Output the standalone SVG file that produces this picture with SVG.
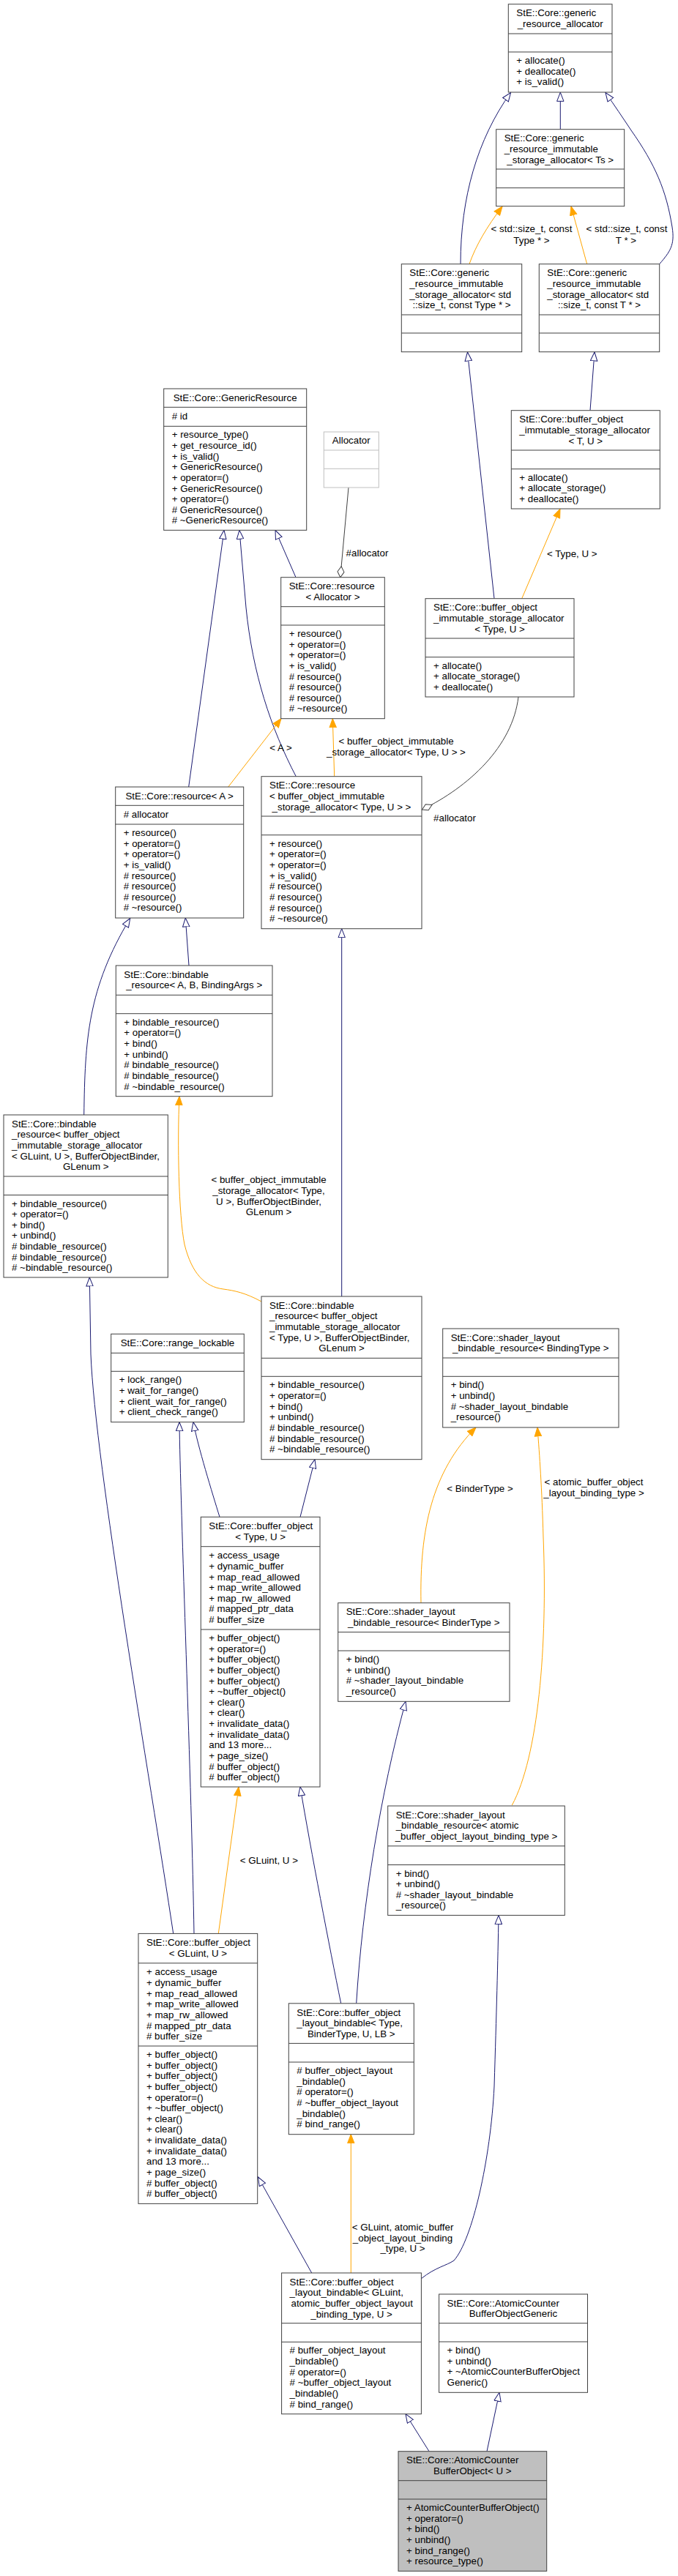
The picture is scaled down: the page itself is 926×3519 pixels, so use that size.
<svg xmlns="http://www.w3.org/2000/svg" width="926" height="3519" viewBox="0 0 926 3519">
<style>
text{font-family:"Liberation Sans",Arial,sans-serif;font-size:13.33px;fill:#000}
.c{text-anchor:middle}
.bx{fill:#fff;stroke:#404040;stroke-width:1}
.gy{fill:#fff;stroke:#bfbfbf;stroke-width:1}
.mn{fill:#bfbfbf;stroke:#404040;stroke-width:1}
.sp{stroke:#404040;stroke-width:1}
.spg{stroke:#bfbfbf;stroke-width:1}
.eb{fill:none;stroke:#191970;stroke-width:1;marker-end:url(#ib)}
.eo{fill:none;stroke:#ffa500;stroke-width:1;marker-end:url(#io)}
.eg{fill:none;stroke:#404040;stroke-width:1;marker-end:url(#dg)}
</style>
<defs>
<marker id="ib" markerUnits="userSpaceOnUse" viewBox="0 0 13 11" refX="12.5" refY="5.5" markerWidth="13" markerHeight="11" orient="auto"><path d="M0.5,0.8 L12.5,5.5 L0.5,10.2 z" fill="#fff" stroke="#191970"/></marker>
<marker id="io" markerUnits="userSpaceOnUse" viewBox="0 0 13 11" refX="12.5" refY="5.5" markerWidth="13" markerHeight="11" orient="auto"><path d="M0.5,0.8 L12.5,5.5 L0.5,10.2 z" fill="#ffa500" stroke="#ffa500"/></marker>
<marker id="dg" markerUnits="userSpaceOnUse" viewBox="0 0 16 11" refX="15.5" refY="5.5" markerWidth="16" markerHeight="11" orient="auto"><path d="M0.5,5.5 L8,1 L15.5,5.5 L8,10 z" fill="#fff" stroke="#404040"/></marker>
</defs>
<rect width="926" height="3519" fill="#fff"/>

<g id="edges">
<path class="eb" d="M629,360.7 C629,270 652,190 697.5,126.5"/>
<path class="eb" d="M765.3,176.7 L765.3,126.3"/>
<path class="eb" d="M900.7,360.7 C915,344 922,335 918,310 C910,260 895,225 862,178 C850,160 840,145 827,126.5"/>
<path class="eo" d="M641,360.7 C650,335 665,310 686,282"/>
<path class="eo" d="M801.7,360.7 L780,282"/>
<path class="eb" d="M675,817.7 L638.5,481"/>
<path class="eb" d="M806,560.7 L812,481"/>
<path class="eo" d="M712.7,817.7 L765,695.3"/>
<path class="eb" d="M257.7,1075 L306,724.3"/>
<path class="eb" d="M404.3,1060.7 C370,995 345,920 336,830 L327,724.3"/>
<path class="eb" d="M404,788.7 L376,724.3"/>
<path class="eg" d="M476,666 L464.8,788.7"/>
<path class="eo" d="M311.7,1075 L384,981.7"/>
<path class="eo" d="M456.7,1060.7 L454.3,981.7"/>
<path class="eg" d="M708,952 C700,1020 640,1075 576.5,1106"/>
<path class="eb" d="M258,1319 L253.3,1254"/>
<path class="eb" d="M114.7,1523 C116,1420 120,1350 177.7,1254.5"/>
<path class="eo" d="M357,1778 C335,1766 320,1763 305,1761 C280,1758 262,1740 252,1700 C244,1660 242,1560 245,1497.7"/>
<path class="eb" d="M466.7,1771 L466.7,1268.7"/>
<path class="eb" d="M410,2072.3 L430,1993.7"/>
<path class="eb" d="M300,2072.3 C290,2040 270,1975 264,1942.7"/>
<path class="eb" d="M265,2641.4 C262,2450 246,2050 245,1942.7"/>
<path class="eb" d="M236.7,2641.4 C205,2430 130,2000 124,1850 L122.3,1745"/>
<path class="eo" d="M298.3,2641.4 L326,2441"/>
<path class="eb" d="M465.7,2736.8 C450,2660 425,2530 410,2441"/>
<path class="eb" d="M486.7,2736.8 C495,2600 520,2450 554,2324.3"/>
<path class="eo" d="M575,2189.7 C573,2090 590,2010 650,1950"/>
<path class="eo" d="M699.3,2466 C735,2400 748,2250 742,2100 C740,2030 737,1990 734,1950"/>
<path class="eb" d="M425.7,3105 L352.5,2974"/>
<path class="eo" d="M479.3,3105 L479.3,2915.7"/>
<path class="eb" d="M575.4,3112.7 C595,3097 610,3095 620,3088 C645,3060 670,2950 675,2850 C678,2750 680,2680 681,2616.4"/>
<path class="eb" d="M586,3348.7 L554,3297.7"/>
<path class="eb" d="M665,3348.7 L682,3268.3"/>
<text class="c" x="726" y="317">&lt; std::size_t, const</text>
<text class="c" x="726" y="332.5">Type * &gt;</text>
<text class="c" x="856" y="317">&lt; std::size_t, const</text>
<text class="c" x="855" y="332.5">T * &gt;</text>
<text class="c" x="781.3" y="760.5">&lt; Type, U &gt;</text>
<text class="c" x="501.5" y="760">#allocator</text>
<text class="c" x="383.5" y="1025.5">&lt; A &gt;</text>
<text class="c" x="541" y="1017">&lt; buffer_object_immutable</text>
<text class="c" x="541" y="1032">_storage_allocator&lt; Type, U &gt; &gt;</text>
<text class="c" x="621" y="1122">#allocator</text>
<text class="c" x="367" y="1616">&lt; buffer_object_immutable</text>
<text class="c" x="367" y="1631">_storage_allocator&lt; Type,</text>
<text class="c" x="367" y="1645.5">U &gt;, BufferObjectBinder,</text>
<text class="c" x="367" y="1660">GLenum &gt;</text>
<text class="c" x="655.5" y="2037.5">&lt; BinderType &gt;</text>
<text class="c" x="811" y="2029.4">&lt; atomic_buffer_object</text>
<text class="c" x="811" y="2044.3">_layout_binding_type &gt;</text>
<text class="c" x="367.3" y="2546">&lt; GLuint, U &gt;</text>
<text class="c" x="550" y="3047.4">&lt; GLuint, atomic_buffer</text>
<text class="c" x="550" y="3061.7">_object_layout_binding</text>
<text class="c" x="550" y="3076.4">_type, U &gt;</text>
</g>

<g id="n1">
<rect class="bx" x="694.3" y="5.7" width="141.7" height="120.3"/>
<line class="sp" x1="694.3" y1="46" x2="836" y2="46"/><line class="sp" x1="694.3" y1="71" x2="836" y2="71"/>
<text x="705.3" y="22.4">StE::Core::generic</text>
<text class="c" x="765.2" y="37">_resource_allocator</text>
<text x="705.3" y="87">+ allocate()</text>
<text x="705.3" y="101.7">+ deallocate()</text>
<text x="705.3" y="116.3">+ is_valid()</text>
</g>

<g id="n2">
<rect class="bx" x="677.7" y="176.7" width="175" height="105"/>
<line class="sp" x1="677.7" y1="231" x2="852.7" y2="231"/><line class="sp" x1="677.7" y1="256.7" x2="852.7" y2="256.7"/>
<text x="688.7" y="193.4">StE::Core::generic</text>
<text x="688.7" y="208">_resource_immutable</text>
<text class="c" x="765.2" y="222.7">_storage_allocator&lt; Ts &gt;</text>
</g>

<g id="n3">
<rect class="bx" x="548.3" y="360.7" width="164.4" height="120"/>
<line class="sp" x1="548.3" y1="430" x2="712.7" y2="430"/><line class="sp" x1="548.3" y1="455" x2="712.7" y2="455"/>
<text x="559.3" y="377.4">StE::Core::generic</text>
<text x="559.3" y="392">_resource_immutable</text>
<text x="559.3" y="406.7">_storage_allocator&lt; std</text>
<text class="c" x="630.5" y="421.3">::size_t, const Type * &gt;</text>
</g>

<g id="n4">
<rect class="bx" x="736.3" y="360.7" width="164.4" height="120"/>
<line class="sp" x1="736.3" y1="430" x2="900.7" y2="430"/><line class="sp" x1="736.3" y1="455" x2="900.7" y2="455"/>
<text x="747.3" y="377.4">StE::Core::generic</text>
<text x="747.3" y="392">_resource_immutable</text>
<text x="747.3" y="406.7">_storage_allocator&lt; std</text>
<text class="c" x="818.5" y="421.3">::size_t, const T * &gt;</text>
</g>

<g id="n5">
<rect class="bx" x="698.3" y="560.7" width="203" height="134.3"/>
<line class="sp" x1="698.3" y1="615" x2="901.3" y2="615"/><line class="sp" x1="698.3" y1="640.7" x2="901.3" y2="640.7"/>
<text x="709.3" y="577.4">StE::Core::buffer_object</text>
<text x="709.3" y="592">_immutable_storage_allocator</text>
<text class="c" x="799.8" y="606.7">&lt; T, U &gt;</text>
<text x="709.3" y="656.7">+ allocate()</text>
<text x="709.3" y="671.3">+ allocate_storage()</text>
<text x="709.3" y="686">+ deallocate()</text>
</g>

<g id="n6">
<rect class="bx" x="581" y="817.7" width="203" height="134.3"/>
<line class="sp" x1="581" y1="872" x2="784" y2="872"/><line class="sp" x1="581" y1="897.7" x2="784" y2="897.7"/>
<text x="592" y="834.4">StE::Core::buffer_object</text>
<text x="592" y="849">_immutable_storage_allocator</text>
<text class="c" x="682.5" y="863.7">&lt; Type, U &gt;</text>
<text x="592" y="913.7">+ allocate()</text>
<text x="592" y="928.3">+ allocate_storage()</text>
<text x="592" y="943">+ deallocate()</text>
</g>

<g id="n7">
<rect class="bx" x="223.7" y="531" width="195" height="193.3"/>
<line class="sp" x1="223.7" y1="556.3" x2="418.7" y2="556.3"/><line class="sp" x1="223.7" y1="582.3" x2="418.7" y2="582.3"/>
<text class="c" x="321.2" y="547.7">StE::Core::GenericResource</text>
<text x="234.7" y="573">#  id</text>
<text x="234.7" y="598.3">+ resource_type()</text>
<text x="234.7" y="612.9">+ get_resource_id()</text>
<text x="234.7" y="627.6">+ is_valid()</text>
<text x="234.7" y="642.2">+ GenericResource()</text>
<text x="234.7" y="656.8">+ operator=()</text>
<text x="234.7" y="671.5">+ GenericResource()</text>
<text x="234.7" y="686.1">+ operator=()</text>
<text x="234.7" y="700.7"># GenericResource()</text>
<text x="234.7" y="715.3"># ~GenericResource()</text>
</g>

<g id="n8">
<rect class="gy" x="442.3" y="590" width="75" height="76"/>
<line class="spg" x1="442.3" y1="615" x2="517.3" y2="615"/><line class="spg" x1="442.3" y1="640.3" x2="517.3" y2="640.3"/>
<text class="c" x="479.8" y="606.4">Allocator</text>
</g>

<g id="n9">
<rect class="bx" x="383.7" y="788.7" width="141.6" height="193"/>
<line class="sp" x1="383.7" y1="828.7" x2="525.3" y2="828.7"/><line class="sp" x1="383.7" y1="854" x2="525.3" y2="854"/>
<text x="394.7" y="805.4">StE::Core::resource</text>
<text class="c" x="454.5" y="820">&lt; Allocator &gt;</text>
<text x="394.7" y="870">+ resource()</text>
<text x="394.7" y="884.6">+ operator=()</text>
<text x="394.7" y="899.3">+ operator=()</text>
<text x="394.7" y="913.9">+ is_valid()</text>
<text x="394.7" y="928.5"># resource()</text>
<text x="394.7" y="943.2"># resource()</text>
<text x="394.7" y="957.8"># resource()</text>
<text x="394.7" y="972.4"># ~resource()</text>
</g>

<g id="n10">
<rect class="bx" x="157.7" y="1075" width="175" height="179"/>
<line class="sp" x1="157.7" y1="1100.3" x2="332.7" y2="1100.3"/><line class="sp" x1="157.7" y1="1126" x2="332.7" y2="1126"/>
<text class="c" x="245.2" y="1091.7">StE::Core::resource&lt; A &gt;</text>
<text x="168.7" y="1117"># allocator</text>
<text x="168.7" y="1142">+ resource()</text>
<text x="168.7" y="1156.6">+ operator=()</text>
<text x="168.7" y="1171.3">+ operator=()</text>
<text x="168.7" y="1185.9">+ is_valid()</text>
<text x="168.7" y="1200.5"># resource()</text>
<text x="168.7" y="1215.2"># resource()</text>
<text x="168.7" y="1229.8"># resource()</text>
<text x="168.7" y="1244.4"># ~resource()</text>
</g>

<g id="n11">
<rect class="bx" x="357" y="1060.7" width="219" height="208"/>
<line class="sp" x1="357" y1="1115" x2="576" y2="1115"/><line class="sp" x1="357" y1="1140.7" x2="576" y2="1140.7"/>
<text x="368" y="1077.4">StE::Core::resource</text>
<text x="368" y="1092">&lt; buffer_object_immutable</text>
<text class="c" x="466.5" y="1106.7">_storage_allocator&lt; Type, U &gt; &gt;</text>
<text x="368" y="1156.7">+ resource()</text>
<text x="368" y="1171.3">+ operator=()</text>
<text x="368" y="1186">+ operator=()</text>
<text x="368" y="1200.6">+ is_valid()</text>
<text x="368" y="1215.2"># resource()</text>
<text x="368" y="1229.9"># resource()</text>
<text x="368" y="1244.5"># resource()</text>
<text x="368" y="1259.1"># ~resource()</text>
</g>

<g id="n12">
<rect class="bx" x="158.3" y="1319" width="213.7" height="178.7"/>
<line class="sp" x1="158.3" y1="1359.3" x2="372" y2="1359.3"/><line class="sp" x1="158.3" y1="1384.7" x2="372" y2="1384.7"/>
<text x="169.3" y="1335.7">StE::Core::bindable</text>
<text class="c" x="265.2" y="1350.3">_resource&lt; A, B, BindingArgs &gt;</text>
<text x="169.3" y="1400.7">+ bindable_resource()</text>
<text x="169.3" y="1415.3">+ operator=()</text>
<text x="169.3" y="1430">+ bind()</text>
<text x="169.3" y="1444.6">+ unbind()</text>
<text x="169.3" y="1459.2"># bindable_resource()</text>
<text x="169.3" y="1473.9"># bindable_resource()</text>
<text x="169.3" y="1488.5"># ~bindable_resource()</text>
</g>

<g id="n13">
<rect class="bx" x="5" y="1523" width="224.3" height="222"/>
<line class="sp" x1="5" y1="1607" x2="229.3" y2="1607"/><line class="sp" x1="5" y1="1632.5" x2="229.3" y2="1632.5"/>
<text x="16" y="1539.7">StE::Core::bindable</text>
<text x="16" y="1554.3">_resource&lt; buffer_object</text>
<text x="16" y="1569">_immutable_storage_allocator</text>
<text x="16" y="1583.6">&lt; GLuint, U &gt;, BufferObjectBinder,</text>
<text class="c" x="117.2" y="1598.3">GLenum &gt;</text>
<text x="16" y="1648.5">+ bindable_resource()</text>
<text x="16" y="1663.1">+ operator=()</text>
<text x="16" y="1677.8">+ bind()</text>
<text x="16" y="1692.4">+ unbind()</text>
<text x="16" y="1707"># bindable_resource()</text>
<text x="16" y="1721.7"># bindable_resource()</text>
<text x="16" y="1736.3"># ~bindable_resource()</text>
</g>

<g id="n14">
<rect class="bx" x="151.7" y="1822.3" width="181.6" height="120.4"/>
<line class="sp" x1="151.7" y1="1848.3" x2="333.3" y2="1848.3"/><line class="sp" x1="151.7" y1="1873.3" x2="333.3" y2="1873.3"/>
<text class="c" x="242.5" y="1839">StE::Core::range_lockable</text>
<text x="162.7" y="1889.3">+ lock_range()</text>
<text x="162.7" y="1903.9">+ wait_for_range()</text>
<text x="162.7" y="1918.6">+ client_wait_for_range()</text>
<text x="162.7" y="1933.2">+ client_check_range()</text>
</g>

<g id="n15">
<rect class="bx" x="357" y="1771" width="219" height="222.7"/>
<line class="sp" x1="357" y1="1855.3" x2="576" y2="1855.3"/><line class="sp" x1="357" y1="1880.3" x2="576" y2="1880.3"/>
<text x="368" y="1787.7">StE::Core::bindable</text>
<text x="368" y="1802.3">_resource&lt; buffer_object</text>
<text x="368" y="1817">_immutable_storage_allocator</text>
<text x="368" y="1831.6">&lt; Type, U &gt;, BufferObjectBinder,</text>
<text class="c" x="466.5" y="1846.3">GLenum &gt;</text>
<text x="368" y="1896.3">+ bindable_resource()</text>
<text x="368" y="1910.9">+ operator=()</text>
<text x="368" y="1925.6">+ bind()</text>
<text x="368" y="1940.2">+ unbind()</text>
<text x="368" y="1954.8"># bindable_resource()</text>
<text x="368" y="1969.5"># bindable_resource()</text>
<text x="368" y="1984.1"># ~bindable_resource()</text>
</g>

<g id="n16">
<rect class="bx" x="604.7" y="1815" width="240.3" height="135"/>
<line class="sp" x1="604.7" y1="1855" x2="845" y2="1855"/><line class="sp" x1="604.7" y1="1880.3" x2="845" y2="1880.3"/>
<text x="615.7" y="1831.7">StE::Core::shader_layout</text>
<text class="c" x="724.8" y="1846.3">_bindable_resource&lt; BindingType &gt;</text>
<text x="615.7" y="1896.3">+ bind()</text>
<text x="615.7" y="1910.9">+ unbind()</text>
<text x="615.7" y="1925.6"># ~shader_layout_bindable</text>
<text x="615.7" y="1940.2">_resource()</text>
</g>

<g id="n17">
<rect class="bx" x="274.3" y="2072.3" width="162.7" height="368.7"/>
<line class="sp" x1="274.3" y1="2112.7" x2="437" y2="2112.7"/><line class="sp" x1="274.3" y1="2226" x2="437" y2="2226"/>
<text x="285.3" y="2089">StE::Core::buffer_object</text>
<text class="c" x="355.7" y="2103.6">&lt; Type, U &gt;</text>
<text x="285.3" y="2129.2">+ access_usage</text>
<text x="285.3" y="2143.8">+ dynamic_buffer</text>
<text x="285.3" y="2158.5">+ map_read_allowed</text>
<text x="285.3" y="2173.1">+ map_write_allowed</text>
<text x="285.3" y="2187.7">+ map_rw_allowed</text>
<text x="285.3" y="2202.4"># mapped_ptr_data</text>
<text x="285.3" y="2217"># buffer_size</text>
<text x="285.3" y="2242">+ buffer_object()</text>
<text x="285.3" y="2256.6">+ operator=()</text>
<text x="285.3" y="2271.3">+ buffer_object()</text>
<text x="285.3" y="2285.9">+ buffer_object()</text>
<text x="285.3" y="2300.5">+ buffer_object()</text>
<text x="285.3" y="2315.2">+ ~buffer_object()</text>
<text x="285.3" y="2329.8">+ clear()</text>
<text x="285.3" y="2344.4">+ clear()</text>
<text x="285.3" y="2359">+ invalidate_data()</text>
<text x="285.3" y="2373.7">+ invalidate_data()</text>
<text x="285.3" y="2388.3">and 13 more...</text>
<text x="285.3" y="2402.9">+ page_size()</text>
<text x="285.3" y="2417.6"># buffer_object()</text>
<text x="285.3" y="2432.2"># buffer_object()</text>
</g>

<g id="n18">
<rect class="bx" x="461.7" y="2189.7" width="234.3" height="134.6"/>
<line class="sp" x1="461.7" y1="2229.6" x2="696" y2="2229.6"/><line class="sp" x1="461.7" y1="2255" x2="696" y2="2255"/>
<text x="472.7" y="2206.4">StE::Core::shader_layout</text>
<text class="c" x="578.8" y="2221">_bindable_resource&lt; BinderType &gt;</text>
<text x="472.7" y="2271">+ bind()</text>
<text x="472.7" y="2285.6">+ unbind()</text>
<text x="472.7" y="2300.3"># ~shader_layout_bindable</text>
<text x="472.7" y="2314.9">_resource()</text>
</g>

<g id="n19">
<rect class="bx" x="529.7" y="2467" width="241.6" height="149.4"/>
<line class="sp" x1="529.7" y1="2521.8" x2="771.3" y2="2521.8"/><line class="sp" x1="529.7" y1="2547.5" x2="771.3" y2="2547.5"/>
<text x="540.7" y="2483.7">StE::Core::shader_layout</text>
<text x="540.7" y="2498.3">_bindable_resource&lt; atomic</text>
<text class="c" x="650.5" y="2513">_buffer_object_layout_binding_type &gt;</text>
<text x="540.7" y="2563.5">+ bind()</text>
<text x="540.7" y="2578.1">+ unbind()</text>
<text x="540.7" y="2592.8"># ~shader_layout_bindable</text>
<text x="540.7" y="2607.4">_resource()</text>
</g>

<g id="n20">
<rect class="bx" x="189" y="2641.4" width="162.7" height="369"/>
<line class="sp" x1="189" y1="2681.8" x2="351.7" y2="2681.8"/><line class="sp" x1="189" y1="2795" x2="351.7" y2="2795"/>
<text x="200" y="2658.1">StE::Core::buffer_object</text>
<text class="c" x="270.4" y="2672.7">&lt; GLuint, U &gt;</text>
<text x="200" y="2698.3">+ access_usage</text>
<text x="200" y="2712.9">+ dynamic_buffer</text>
<text x="200" y="2727.6">+ map_read_allowed</text>
<text x="200" y="2742.2">+ map_write_allowed</text>
<text x="200" y="2756.8">+ map_rw_allowed</text>
<text x="200" y="2771.5"># mapped_ptr_data</text>
<text x="200" y="2786.1"># buffer_size</text>
<text x="200" y="2811">+ buffer_object()</text>
<text x="200" y="2825.6">+ buffer_object()</text>
<text x="200" y="2840.3">+ buffer_object()</text>
<text x="200" y="2854.9">+ buffer_object()</text>
<text x="200" y="2869.5">+ operator=()</text>
<text x="200" y="2884.2">+ ~buffer_object()</text>
<text x="200" y="2898.8">+ clear()</text>
<text x="200" y="2913.4">+ clear()</text>
<text x="200" y="2928">+ invalidate_data()</text>
<text x="200" y="2942.7">+ invalidate_data()</text>
<text x="200" y="2957.3">and 13 more...</text>
<text x="200" y="2971.9">+ page_size()</text>
<text x="200" y="2986.6"># buffer_object()</text>
<text x="200" y="3001.2"># buffer_object()</text>
</g>

<g id="n21">
<rect class="bx" x="394.3" y="2736.8" width="171" height="178.9"/>
<line class="sp" x1="394.3" y1="2791.4" x2="565.3" y2="2791.4"/><line class="sp" x1="394.3" y1="2817" x2="565.3" y2="2817"/>
<text x="405.3" y="2753.5">StE::Core::buffer_object</text>
<text x="405.3" y="2768.1">_layout_bindable&lt; Type,</text>
<text class="c" x="479.8" y="2782.8">BinderType, U, LB &gt;</text>
<text x="405.3" y="2833"># buffer_object_layout</text>
<text x="405.3" y="2847.6">_bindable()</text>
<text x="405.3" y="2862.3"># operator=()</text>
<text x="405.3" y="2876.9"># ~buffer_object_layout</text>
<text x="405.3" y="2891.5">_bindable()</text>
<text x="405.3" y="2906.2"># bind_range()</text>
</g>

<g id="n22">
<rect class="bx" x="384.6" y="3105" width="190.8" height="192.7"/>
<line class="sp" x1="384.6" y1="3173.7" x2="575.4" y2="3173.7"/><line class="sp" x1="384.6" y1="3199.3" x2="575.4" y2="3199.3"/>
<text x="395.6" y="3121.7">StE::Core::buffer_object</text>
<text x="395.6" y="3136.3">_layout_bindable&lt; GLuint,</text>
<text x="397.5" y="3151">atomic_buffer_object_layout</text>
<text class="c" x="480" y="3165.6">_binding_type, U &gt;</text>
<text x="395.6" y="3215.3"># buffer_object_layout</text>
<text x="395.6" y="3229.9">_bindable()</text>
<text x="395.6" y="3244.6"># operator=()</text>
<text x="395.6" y="3259.2"># ~buffer_object_layout</text>
<text x="395.6" y="3273.8">_bindable()</text>
<text x="395.6" y="3288.5"># bind_range()</text>
</g>

<g id="n23">
<rect class="bx" x="599.6" y="3134" width="202.9" height="134.3"/>
<line class="sp" x1="599.6" y1="3173.7" x2="802.5" y2="3173.7"/><line class="sp" x1="599.6" y1="3199" x2="802.5" y2="3199"/>
<text x="610.6" y="3150.7">StE::Core::AtomicCounter</text>
<text class="c" x="701" y="3165.3">BufferObjectGeneric</text>
<text x="610.6" y="3215">+ bind()</text>
<text x="610.6" y="3229.6">+ unbind()</text>
<text x="610.6" y="3244.3">+ ~AtomicCounterBufferObject</text>
<text x="610.6" y="3258.9">Generic()</text>
</g>

<g id="n24">
<rect class="mn" x="544" y="3348.7" width="202.7" height="163.6"/>
<line class="sp" x1="544" y1="3388.7" x2="746.7" y2="3388.7"/><line class="sp" x1="544" y1="3414" x2="746.7" y2="3414"/>
<text x="555" y="3365.4">StE::Core::AtomicCounter</text>
<text class="c" x="645.3" y="3380">BufferObject&lt; U &gt;</text>
<text x="555" y="3430">+ AtomicCounterBufferObject()</text>
<text x="555" y="3444.6">+ operator=()</text>
<text x="555" y="3459.3">+ bind()</text>
<text x="555" y="3473.9">+ unbind()</text>
<text x="555" y="3488.5">+ bind_range()</text>
<text x="555" y="3503.2">+ resource_type()</text>
</g>
</svg>
